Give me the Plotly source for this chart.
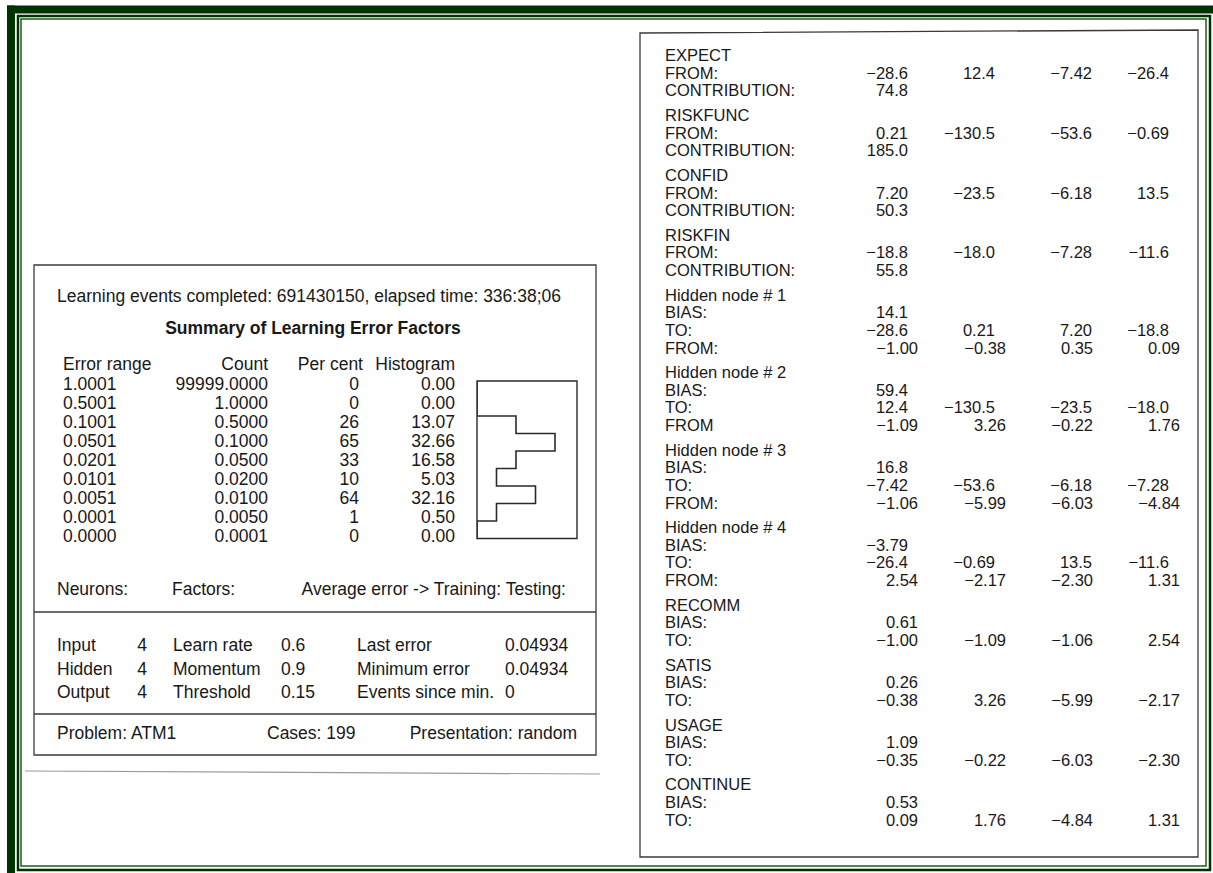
import plotly.graph_objects as go

W, H = 1213, 873

# ---- left panel: learning error summary ----
error_range = ["1.0001", "0.5001", "0.1001", "0.0501", "0.0201", "0.0101", "0.0051", "0.0001", "0.0000"]
error_count = ["99999.0000", "1.0000", "0.5000", "0.1000", "0.0500", "0.0200", "0.0100", "0.0050", "0.0001"]
per_cent = ["0", "0", "26", "65", "33", "10", "64", "1", "0"]
histogram = ["0.00", "0.00", "13.07", "32.66", "16.58", "5.03", "32.16", "0.50", "0.00"]
hist_cells = [0, 0, 2, 4, 2, 1, 3, 1, 0]  # bar lengths as printed in the histogram box

neurons = [("Input", "4"), ("Hidden", "4"), ("Output", "4")]
factors = [("Learn rate", "0.6"), ("Momentum", "0.9"), ("Threshold", "0.15")]
errors = [("Last error", "0.04934"), ("Minimum error", "0.04934"), ("Events since min.", "0")]

# ---- right panel: network weights ----
input_names = ["EXPECT", "RISKFUNC", "CONFID", "RISKFIN"]
input_from = [["-28.6", "12.4", "-7.42", "-26.4"],
              ["0.21", "-130.5", "-53.6", "-0.69"],
              ["7.20", "-23.5", "-6.18", "13.5"],
              ["-18.8", "-18.0", "-7.28", "-11.6"]]
input_contribution = ["74.8", "185.0", "50.3", "55.8"]

hidden_bias = ["14.1", "59.4", "16.8", "-3.79"]
hidden_to = [["-28.6", "0.21", "7.20", "-18.8"],
             ["12.4", "-130.5", "-23.5", "-18.0"],
             ["-7.42", "-53.6", "-6.18", "-7.28"],
             ["-26.4", "-0.69", "13.5", "-11.6"]]
hidden_from = [["-1.00", "-0.38", "0.35", "0.09"],
               ["-1.09", "3.26", "-0.22", "1.76"],
               ["-1.06", "-5.99", "-6.03", "-4.84"],
               ["2.54", "-2.17", "-2.30", "1.31"]]

output_names = ["RECOMM", "SATIS", "USAGE", "CONTINUE"]
output_bias = ["0.61", "0.26", "1.09", "0.53"]
output_to = [["-1.00", "-1.09", "-1.06", "2.54"],
             ["-0.38", "3.26", "-5.99", "-2.17"],
             ["-0.35", "-0.22", "-6.03", "-2.30"],
             ["0.09", "1.76", "-4.84", "1.31"]]

FONT = "Liberation Sans, Arial, sans-serif"
SIZE = 17.5
SIZE_R = 16.5
INK = "#181818"
DARK = "#003200"
GREEN = "#1f5a1f"
RULE = "#3a3a3a"

fig = go.Figure()


def add_text(xs, ys, texts, pos, size=SIZE):
    fig.add_trace(go.Scatter(
        x=xs, y=ys, text=texts, mode="text", textposition=pos,
        textfont=dict(family=FONT, size=size, color=INK),
        hoverinfo="skip", showlegend=False,
    ))


def num(s):
    return s.replace("-", "\u2212")


# left panel text
add_text([57], [298], ["Learning events completed: 691430150, elapsed time: 336:38;06"], "middle right")
add_text([313], [330], ["<b>Summary of Learning Error Factors</b>"], "middle center")
add_text([63, 268, 363, 455], [366] * 4, ["Error range", "Count", "Per cent", "Histogram"],
         ["middle right", "middle left", "middle left", "middle left"])

row_y = [386 + i * 19 for i in range(len(error_range))]
add_text([63] * 9, row_y, error_range, "middle right")
add_text([268] * 9, row_y, error_count, "middle left")
add_text([359] * 9, row_y, per_cent, "middle left")
add_text([455] * 9, row_y, histogram, "middle left")

add_text([57, 172, 566], [591] * 3, ["Neurons:", "Factors:", "Average error -> Training: Testing:"],
         ["middle right", "middle right", "middle left"])

for i in range(3):
    y = 647 + i * 23.5
    add_text([57, 142, 173, 281, 357, 505],
             [y] * 6,
             [neurons[i][0], neurons[i][1], factors[i][0], factors[i][1], errors[i][0], errors[i][1]],
             ["middle right", "middle center", "middle right", "middle right", "middle right", "middle right"])

add_text([57, 267, 577], [735] * 3, ["Problem: ATM1", "Cases: 199", "Presentation: random"],
         ["middle right", "middle right", "middle left"])

# right panel text
LABEL_X = 665
COL_A = [908, 995, 1092, 1169]
COL_B = [918, 1006, 1093, 1180]
LINE = 17.6
GAP = 7.1
lab_x, lab_y, lab_t = [], [], []
val_x, val_y, val_t = [], [], []
cursor = 57


def block(title, rows):
    global cursor
    lab_x.append(LABEL_X); lab_y.append(cursor); lab_t.append(title)
    for k, (name, vals, cols) in enumerate(rows, start=1):
        y = cursor + k * LINE
        lab_x.append(LABEL_X); lab_y.append(y); lab_t.append(name)
        for j, v in enumerate(vals):
            val_x.append(cols[j]); val_y.append(y); val_t.append(num(v))
    cursor += (len(rows) + 1) * LINE + GAP


for i, name in enumerate(input_names):
    block(name, [("FROM:", input_from[i], COL_A),
                 ("CONTRIBUTION:", [input_contribution[i]], COL_A)])
for i in range(4):
    block("Hidden node # %d" % (i + 1),
          [("BIAS:", [hidden_bias[i]], COL_A), ("TO:", hidden_to[i], COL_A),
           ("FROM" if i == 1 else "FROM:", hidden_from[i], COL_B)])
for i, name in enumerate(output_names):
    block(name, [("BIAS:", [output_bias[i]], COL_B), ("TO:", output_to[i], COL_B)])

add_text(lab_x, lab_y, lab_t, "middle right", SIZE_R)
add_text(val_x, val_y, val_t, "middle left", SIZE_R)

# histogram drawn on its own axis (cells across, rows down)
hx, hy = [], []
for i, c in enumerate(hist_cells):
    hx += [c, c]
    hy += [i, i + 1]
fig.add_trace(go.Scatter(x=hx, y=hy, mode="lines", xaxis="x2", yaxis="y2",
                         line=dict(color="#2a2a2a", width=1.6), hoverinfo="skip", showlegend=False))

HB = dict(x0=477, x1=577, y0=381, y1=538.5)

shapes = [
    # green page frame
    dict(type="rect", x0=7, x1=W, y0=5.5, y1=13.5, fillcolor=DARK, line_width=0),
    dict(type="rect", x0=7, x1=15, y0=5.5, y1=H, fillcolor=DARK, line_width=0),
    dict(type="rect", x0=18, x1=1210, y0=16, y1=870, line=dict(color=DARK, width=2.5)),
    dict(type="rect", x0=21, x1=1206, y0=19, y1=866, line=dict(color=GREEN, width=1.5)),
    # left panel
    dict(type="rect", x0=34, x1=596, y0=265, y1=755, line=dict(color=RULE, width=1.3)),
    dict(type="line", x0=34, x1=596, y0=612, y1=612, line=dict(color=RULE, width=1.3)),
    dict(type="line", x0=34, x1=596, y0=714, y1=714, line=dict(color=RULE, width=1.3)),
    dict(type="line", x0=25, x1=600, y0=771, y1=774, line=dict(color="#9a9a9a", width=1.2)),
    dict(type="rect", line=dict(color="#2a2a2a", width=1.4), **HB),
    # right panel
    dict(type="path", path="M 640 33 L 1198 30 L 1198 857 L 640 857 Z", line=dict(color=RULE, width=1.3)),
]
fig.update_layout(shapes=shapes)

fig.update_layout(
    width=W, height=H,
    margin=dict(l=0, r=0, t=0, b=0),
    paper_bgcolor="white", plot_bgcolor="rgba(0,0,0,0)",
    xaxis=dict(range=[0, W], visible=False, fixedrange=True),
    yaxis=dict(range=[H, 0], visible=False, fixedrange=True),
    xaxis2=dict(domain=[HB["x0"] / W, HB["x1"] / W], range=[0, 100 / 19.5], visible=False,
                anchor="y2", fixedrange=True),
    yaxis2=dict(domain=[1 - HB["y1"] / H, 1 - HB["y0"] / H], range=[9, 0], visible=False,
                anchor="x2", fixedrange=True),
)

fig.write_html("out.html", config={"displayModeBar": False},
               post_script="document.body.style.margin='0';")
